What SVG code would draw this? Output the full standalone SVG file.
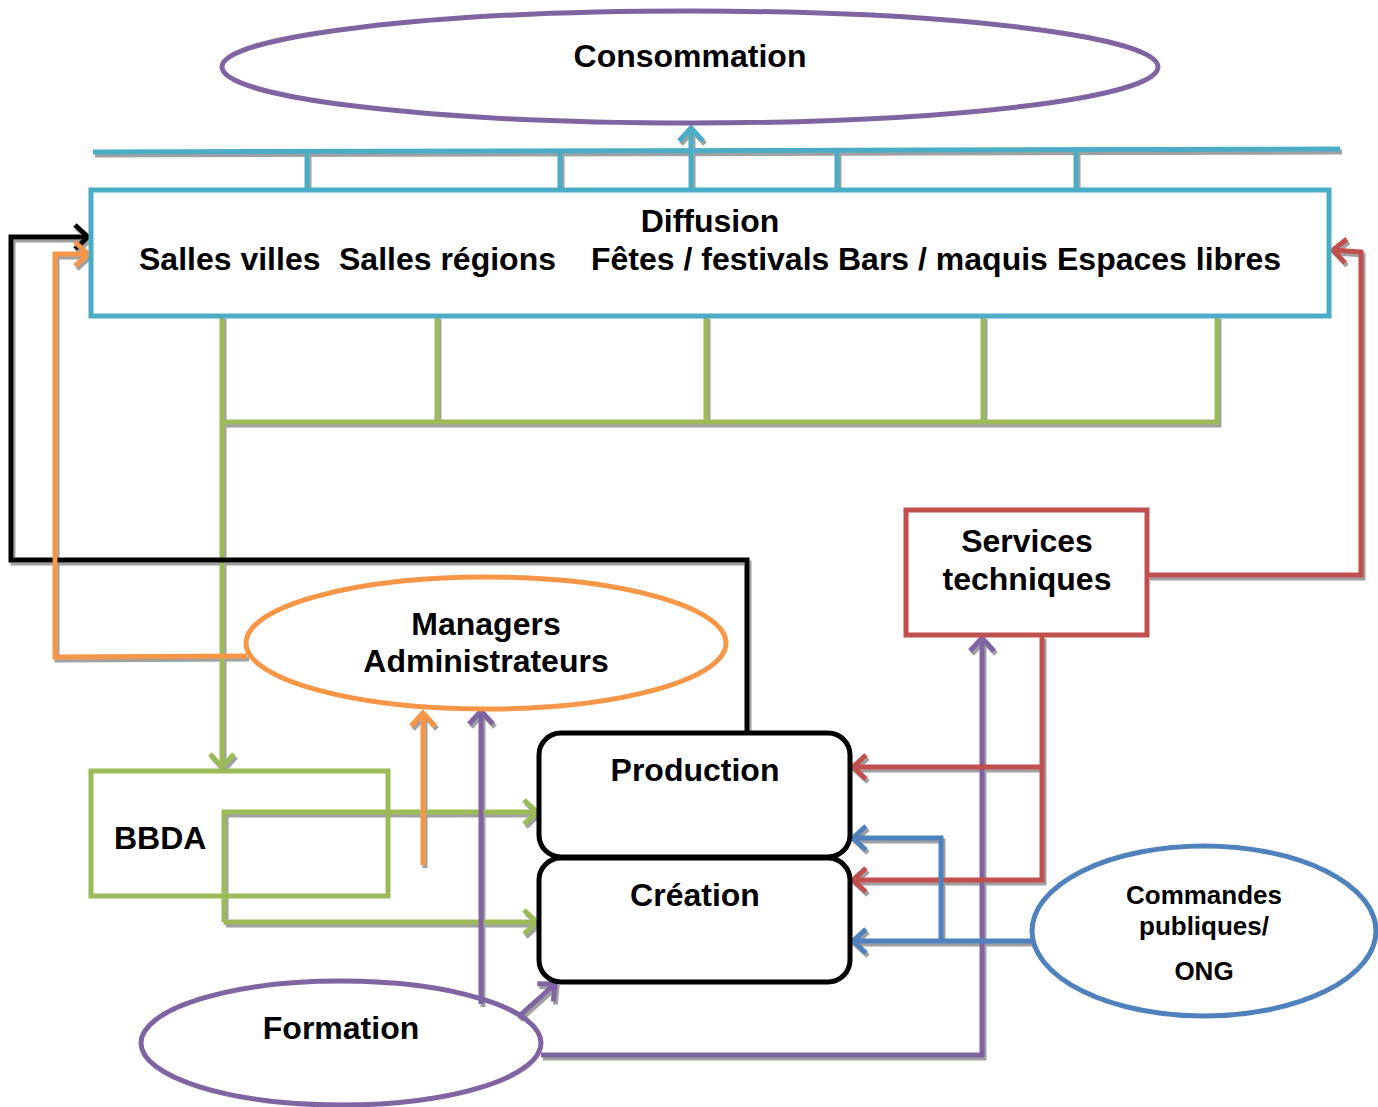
<svg xmlns="http://www.w3.org/2000/svg" width="1378" height="1107" viewBox="0 0 1378 1107">
<style>
  text { font-family: "Liberation Sans", Arial, sans-serif; font-weight: bold; fill: #000; }
  .big { font-size: 32px; }
  .small { font-size: 26px; }
  .c { text-anchor: middle; }
  .ln { fill: none; stroke-width: 5; stroke-linejoin: miter; }
  .blue { stroke: #4BACC6; }
  .green { stroke: #9BBB59; }
  .orange { stroke: #F79646; }
  .red { stroke: #C0504D; }
  .purple { stroke: #8064A2; }
  .navy { stroke: #4F81BD; }
  .black { stroke: #000; }
</style>
<defs>
  <filter id="sh" x="-5%" y="-5%" width="110%" height="110%">
    <feDropShadow dx="2" dy="3" stdDeviation="0.6" flood-color="#808080" flood-opacity="0.75"/>
  </filter>
  <marker id="aBlue" viewBox="-18 -16 22 32" refX="0" refY="0" markerWidth="22" markerHeight="32" markerUnits="userSpaceOnUse" orient="auto"><path d="M-13,-12 L0,0 L-13,12" fill="none" stroke="#4BACC6" stroke-width="5"/></marker>
  <marker id="aGreen" viewBox="-18 -16 22 32" refX="0" refY="0" markerWidth="22" markerHeight="32" markerUnits="userSpaceOnUse" orient="auto"><path d="M-13,-12 L0,0 L-13,12" fill="none" stroke="#9BBB59" stroke-width="5"/></marker>
  <marker id="aOrange" viewBox="-18 -16 22 32" refX="0" refY="0" markerWidth="22" markerHeight="32" markerUnits="userSpaceOnUse" orient="auto"><path d="M-13,-12 L0,0 L-13,12" fill="none" stroke="#F79646" stroke-width="5"/></marker>
  <marker id="aRed" viewBox="-18 -16 22 32" refX="0" refY="0" markerWidth="22" markerHeight="32" markerUnits="userSpaceOnUse" orient="auto"><path d="M-13,-12 L0,0 L-13,12" fill="none" stroke="#C0504D" stroke-width="5"/></marker>
  <marker id="aPurple" viewBox="-18 -16 22 32" refX="0" refY="0" markerWidth="22" markerHeight="32" markerUnits="userSpaceOnUse" orient="auto"><path d="M-13,-12 L0,0 L-13,12" fill="none" stroke="#8064A2" stroke-width="5"/></marker>
  <marker id="aNavy" viewBox="-18 -16 22 32" refX="0" refY="0" markerWidth="22" markerHeight="32" markerUnits="userSpaceOnUse" orient="auto"><path d="M-13,-12 L0,0 L-13,12" fill="none" stroke="#4F81BD" stroke-width="5"/></marker>
  <marker id="aBlack" viewBox="-18 -16 22 32" refX="0" refY="0" markerWidth="22" markerHeight="32" markerUnits="userSpaceOnUse" orient="auto"><path d="M-13,-12 L0,0 L-13,12" fill="none" stroke="#000" stroke-width="5"/></marker>
</defs>
<rect width="1378" height="1107" fill="#fff"/>

<g id="connectors" filter="url(#sh)">
  <!-- blue distribution bar -->
  <path class="ln blue" stroke-width="5.5" d="M93,152 L1340,149"/>
  <path class="ln blue" d="M307,152 V190 M560,152 V190 M837,151 V190 M1076,151 V190"/>
  <path class="ln blue" d="M691,190 V128" marker-end="url(#aBlue)"/>
  <!-- green collection under Diffusion -->
  <path class="ln green" d="M222,316 V422 H1217 V316 M437,316 V422 M706,316 V422 M983,316 V422"/>
  <path class="ln green" d="M222,422 V767" marker-end="url(#aGreen)"/>
  <!-- black Production -> Diffusion -->
  <path class="ln black" d="M747,731 V560 H11 V237 H88" marker-end="url(#aBlack)"/>
  <!-- orange Managers -> Diffusion -->
  <path class="ln orange" d="M247,656 L55,657 V254 H88" marker-end="url(#aOrange)"/>
  <!-- red Services -> Diffusion -->
  <path class="ln red" d="M1148,575 H1361 V252 L1333,250" marker-end="url(#aRed)"/>
  <!-- BBDA -> Production / Création -->
  <path class="ln green" d="M224,922 V812 H537" marker-end="url(#aGreen)"/>
  <path class="ln green" d="M224,922 H537" marker-end="url(#aGreen)"/>
  <!-- orange up to Managers -->
  <path class="ln orange" d="M423,865 V713" marker-end="url(#aOrange)"/>
  <!-- purple Formation -> Managers -->
  <path class="ln purple" d="M481,1004 V711" marker-end="url(#aPurple)"/>
  <!-- purple Formation -> Création -->
  <path class="ln purple" d="M518,1017 L555,984" marker-end="url(#aPurple)"/>
  <!-- purple Formation -> Services -->
  <path class="ln purple" d="M541,1055 H982 V638" marker-end="url(#aPurple)"/>
  <!-- red Services -> Production / Création -->
  <path class="ln red" d="M1042,636 V880 H853" marker-end="url(#aRed)"/>
  <path class="ln red" d="M1042,767 H853" marker-end="url(#aRed)"/>
  <!-- blue Commandes -> Production / Création -->
  <path class="ln navy" d="M1033,941 H853" marker-end="url(#aNavy)"/>
  <path class="ln navy" d="M941,941 V838 H853" marker-end="url(#aNavy)"/>
</g>

<g id="consommation">
  <ellipse cx="690" cy="67" rx="468" ry="56" fill="none" stroke="#8064A2" stroke-width="5"/>
  <text class="big c" x="690" y="67">Consommation</text>
</g>

<g id="diffusion">
  <rect x="91" y="190" width="1238" height="126" fill="#fff" stroke="#4BACC6" stroke-width="5"/>
  <text class="big c" x="710" y="232">Diffusion</text>
  <text class="big" y="270"><tspan x="139">Salles villes</tspan><tspan x="339">Salles régions</tspan><tspan x="591">Fêtes / festivals</tspan><tspan x="838">Bars / maquis</tspan><tspan x="1057">Espaces libres</tspan></text>
</g>

<g id="services">
  <rect x="906" y="510" width="241" height="125" fill="#fff" stroke="#C0504D" stroke-width="5"/>
  <text class="big c" x="1027" y="552">Services</text>
  <text class="big c" x="1027" y="590">techniques</text>
</g>

<g id="managers">
  <ellipse cx="486" cy="643" rx="240" ry="66" fill="#fff" stroke="#F79646" stroke-width="5"/>
  <text class="big c" x="486" y="635">Managers</text>
  <text class="big c" x="486" y="672">Administrateurs</text>
</g>

<g id="bbda">
  <rect x="91" y="771" width="297" height="125" fill="none" stroke="#9BBB59" stroke-width="5"/>
  <text class="big" x="114" y="849">BBDA</text>
</g>

<g id="production">
  <rect x="539" y="733" width="311" height="124" rx="22" ry="22" fill="#fff" stroke="#000" stroke-width="5"/>
  <text class="big c" x="695" y="781">Production</text>
</g>

<g id="creation">
  <rect x="539" y="858" width="311" height="124" rx="22" ry="22" fill="#fff" stroke="#000" stroke-width="5"/>
  <text class="big c" x="695" y="906">Création</text>
</g>

<g id="formation">
  <ellipse cx="341" cy="1043" rx="200" ry="62" fill="none" stroke="#8064A2" stroke-width="5"/>
  <text class="big c" x="341" y="1039">Formation</text>
</g>

<g id="commandes">
  <ellipse cx="1204" cy="931" rx="172" ry="85" fill="#fff" stroke="#4F81BD" stroke-width="5"/>
  <text class="small c" x="1204" y="904">Commandes</text>
  <text class="small c" x="1204" y="935">publiques/</text>
  <text class="small c" x="1204" y="980">ONG</text>
</g>
</svg>
